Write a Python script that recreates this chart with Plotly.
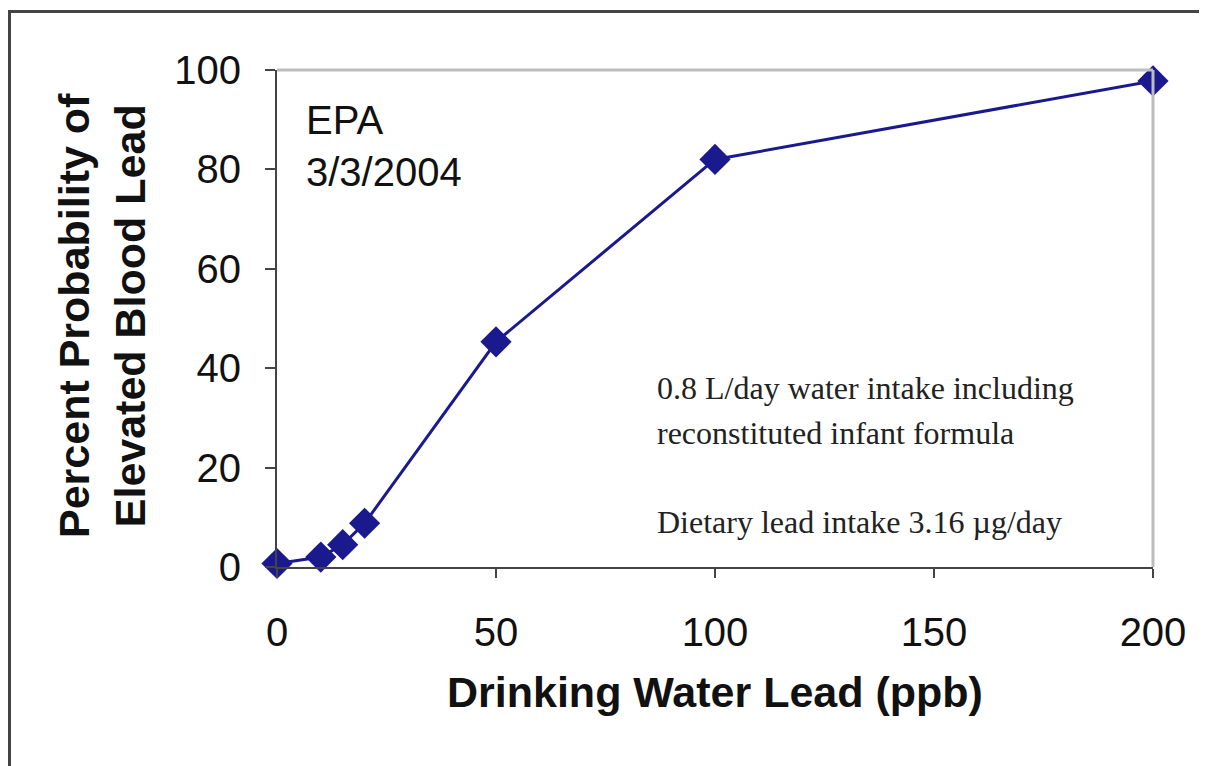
import plotly.graph_objects as go

# Data
water_lead_ppb = [0, 10, 15, 20, 50, 100, 200]
prob_elevated = [0.7, 2.0, 4.5, 8.8, 45.3, 82.0, 97.8]
x_ticks = [0, 50, 100, 150, 200]
y_ticks = [0, 20, 40, 60, 80, 100]

# The page body adds an 8px offset; work in screen pixels and convert.
OFF = 8
W, H = 1207 - OFF, 766 - OFF
PL, PR, PT, PB = 277, 1153, 70, 567   # plot area in screen pixels
L, T = PL - OFF, PT - OFF
R, B = W - (PR - OFF), H - (PB - OFF)
pw, ph = PR - PL, PB - PT

def px(sx):
    return (sx - PL) / pw

def py(sy):
    return (PB - sy) / ph

line_col = "#1a1a8e"

fig = go.Figure()
fig.add_trace(go.Scatter(
    x=water_lead_ppb, y=prob_elevated, mode="lines+markers",
    line=dict(color=line_col, width=3),
    marker=dict(symbol="diamond", size=24, color=line_col),
    cliponaxis=False, showlegend=False,
))

sans = "Liberation Sans, Arial, sans-serif"
serif = "Liberation Serif, Times New Roman, serif"
axis_font = dict(family=sans, size=40, color="#111")
title_font = dict(family=sans, size=43, color="#111", weight="bold")
note_font = dict(family=serif, size=32, color="#222")

fig.update_layout(
    width=W, height=H,
    margin=dict(l=L, r=R, t=T, b=B),
    paper_bgcolor="white", plot_bgcolor="white",
    xaxis=dict(range=[0, 200], tickvals=x_ticks, showgrid=False, zeroline=False,
               showline=True, linecolor="#444", linewidth=2,
               ticks="outside", ticklen=9, tickwidth=2, tickcolor="#444",
               tickfont=axis_font, ticklabelstandoff=20),
    yaxis=dict(range=[0, 100], tickvals=y_ticks, showgrid=False, zeroline=False,
               showline=True, linecolor="#444", linewidth=2,
               ticks="outside", ticklen=10, tickwidth=2, tickcolor="#444",
               tickfont=axis_font, ticklabelstandoff=16),
    shapes=[
        # top and right plot border (light gray)
        dict(type="line", xref="paper", yref="paper", x0=0, x1=1, y0=1, y1=1,
             line=dict(color="#bdbdbd", width=3)),
        dict(type="line", xref="paper", yref="paper", x0=1, x1=1, y0=0, y1=1,
             line=dict(color="#bdbdbd", width=3)),
        # outer frame (left and top)
        dict(type="line", xref="paper", yref="paper", x0=px(OFF + 1.5), x1=px(OFF + 1.5),
             y0=py(10), y1=py(780), line=dict(color="#444", width=3)),
        dict(type="line", xref="paper", yref="paper", x0=px(OFF), x1=px(1220),
             y0=py(11.5), y1=py(11.5), line=dict(color="#444", width=3)),
    ],
    annotations=[
        dict(text="Percent Probability of<br>Elevated Blood Lead", xref="paper", yref="paper",
             x=px(102), y=py(316), xanchor="center", yanchor="middle", textangle=-90,
             showarrow=False, font=title_font, align="center"),
        dict(text="Drinking Water Lead (ppb)", xref="paper", yref="paper",
             x=px(715), y=py(692), xanchor="center", yanchor="middle",
             showarrow=False, font=title_font),
        dict(text="EPA", xref="paper", yref="paper", x=px(304), y=py(120),
             xanchor="left", yanchor="middle", showarrow=False, font=axis_font),
        dict(text="3/3/2004", xref="paper", yref="paper", x=px(304), y=py(172),
             xanchor="left", yanchor="middle", showarrow=False, font=axis_font),
        dict(text="0.8 L/day water intake including", xref="paper", yref="paper",
             x=px(655), y=py(388), xanchor="left", yanchor="middle", showarrow=False,
             font=note_font),
        dict(text="reconstituted infant formula", xref="paper", yref="paper",
             x=px(655), y=py(433), xanchor="left", yanchor="middle", showarrow=False,
             font=note_font),
        dict(text="Dietary lead intake 3.16 µg/day", xref="paper", yref="paper",
             x=px(655), y=py(522), xanchor="left", yanchor="middle", showarrow=False,
             font=note_font),
    ],
)

fig.write_html("out.html")
